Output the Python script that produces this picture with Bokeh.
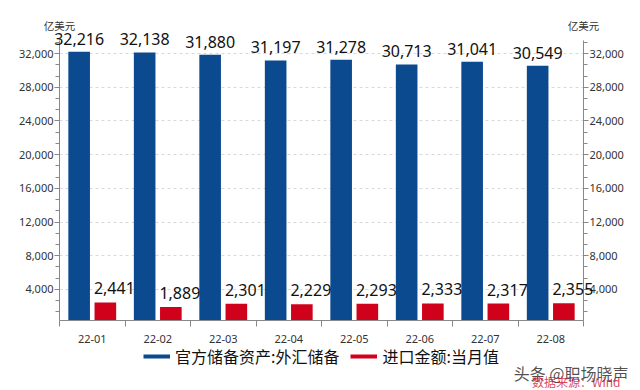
from bokeh.plotting import figure
from bokeh.layouts import column
from bokeh.models import (ColumnDataSource, LinearAxis, SingleIntervalTicker, FixedTicker,
                          NumeralTickFormatter, Legend, LegendItem, Label, LabelSet, Range1d,
                          GridBox)
from bokeh.core.properties import value
from bokeh.embed import file_html
from bokeh.resources import INLINE

months = ["22-01", "22-02", "22-03", "22-04", "22-05", "22-06", "22-07", "22-08"]
reserves = [32216, 32138, 31880, 31197, 31278, 30713, 31041, 30549]
imports = [2441, 1889, 2301, 2229, 2293, 2333, 2317, 2355]
name_reserves = "官方储备资产:外汇储备"
name_imports = "进口金额:当月值"
unit = "亿美元"
watermark = "头条 @职场晓声"
source_note = "数据来源：Wind"

BLUE = "#0b4a8f"
RED = "#d0021b"
FONT = "Noto Sans"
CJK = "Noto Sans CJK SC"
AXIS = "#888888"
TICKTXT = "#333333"

n = len(months)
idx = list(range(1, n + 1))
src = ColumnDataSource(dict(
    xb=[i - 0.2 for i in idx], xr=[i + 0.2 for i in idx],
    rb=reserves, ri=imports,
    lb=[f"{v:,}" for v in reserves], li=[f"{v:,}" for v in imports],
))

# ---- geometry (pixels) ----
W, H = 640, 390
FL, FR, FT, FB = 59, 583, 40, 320          # main plot frame
Y0, Y1 = 300, 33560                         # value range shown in the frame
X0, X1 = 0.5, n + 0.5
sx = (FR - FL) / (X1 - X0)                  # px per category
sy = (FB - FT) / (Y1 - Y0)                  # px per unit

# ---- main chart: bars, axes, grid ----
p = figure(width=W, height=H, output_backend="svg", toolbar_location=None,
           x_range=Range1d(X0, X1), y_range=Range1d(Y0, Y1),
           min_border_left=FL, min_border_right=W - FR, min_border_top=FT,
           min_border_bottom=H - FB)
p.outline_line_color = None

p.vbar(x="xb", top="rb", bottom=Y0, width=0.33, source=src, fill_color=BLUE, line_color=None)
p.vbar(x="xr", top="ri", bottom=Y0, width=0.33, source=src, fill_color=RED, line_color=None)

xa = p.xaxis[0]
xa.ticker = FixedTicker(ticks=idx, minor_ticks=[i - 0.5 for i in idx] + [n + 0.5])
xa.major_label_overrides = {i: m for i, m in zip(idx, months)}
xa.major_tick_out = 0
xa.major_tick_in = 0
xa.minor_tick_out = 6
xa.minor_tick_in = 0
xa.axis_line_color = AXIS
xa.minor_tick_line_color = AXIS
xa.major_label_text_font = FONT
xa.major_label_text_font_size = "11px"
xa.major_label_text_color = TICKTXT
xa.major_label_standoff = 8

ticker = SingleIntervalTicker(interval=4000, num_minor_ticks=3)
ya = p.yaxis[0]
ya.ticker = ticker
ya2 = LinearAxis(ticker=ticker)
p.add_layout(ya2, "right")
for ax in (ya, ya2):
    ax.formatter = NumeralTickFormatter(format="0,0")
    ax.axis_line_color = AXIS
    ax.major_tick_line_color = AXIS
    ax.minor_tick_line_color = AXIS
    ax.major_tick_out = 5
    ax.major_tick_in = 0
    ax.minor_tick_out = 4
    ax.minor_tick_in = 0
    ax.major_label_text_font = FONT
    ax.major_label_text_font_size = "11px"
    ax.major_label_text_color = TICKTXT
    ax.major_label_standoff = 1

p.xgrid.grid_line_color = None
p.ygrid.ticker = ticker
p.ygrid.grid_line_color = "#d8d8d8"
p.ygrid.grid_line_dash = "3 3"

# ---- transparent overlay with the same scales, so texts are not clipped by the frame ----
ov = figure(width=W, height=H, output_backend="svg", toolbar_location=None,
            x_range=Range1d(X0 - FL / sx, X1 + (W - FR) / sx),
            y_range=Range1d(Y0 - (H - FB) / sy, Y1 + FT / sy),
            x_axis_type=None, y_axis_type=None, min_border=0)
ov.outline_line_color = None
ov.background_fill_color = None
ov.border_fill_color = None

aligned_off = True
for fig in (p, ov):
    try:
        fig.frame_align = False
    except Exception:
        aligned_off = False


def px_x(px):
    return X0 + (px - FL) / sx


def px_y(py):
    return Y0 + (FB - py) / sy


ov.add_layout(LabelSet(x="xb", y="rb", text="lb", source=src, text_align="center",
                       text_baseline="alphabetic", y_offset=7, text_font=value(FONT),
                       text_font_size="16px", text_color="#111111"))
ov.add_layout(LabelSet(x="xr", y="ri", text="li", source=src, text_align="center",
                       text_baseline="alphabetic", x_offset=9, y_offset=8, text_font=value(FONT),
                       text_font_size="16px", text_color="#111111"))

for xu in (X0, X1):
    ov.add_layout(Label(x=xu, y=Y1, text=unit, text_align="center", text_baseline="middle",
                        y_offset=15, text_font=CJK, text_font_size="10.5px", text_color=TICKTXT))

# legend swatches come from (hidden) line renderers of the two series
lb_ = ov.line(x=idx, y=reserves, line_color=BLUE, line_width=4, visible=False)
lr_ = ov.line(x=idx, y=imports, line_color=RED, line_width=4, visible=False)
legend = Legend(items=[LegendItem(label=name_reserves, renderers=[lb_]),
                       LegendItem(label=name_imports, renderers=[lr_])],
                orientation="horizontal", location=(143, 22),
                label_text_font=CJK, label_text_font_size="16px", label_text_color="#111111",
                glyph_width=27, glyph_height=16, label_standoff=5, spacing=11,
                padding=0, margin=0, border_line_color=None, background_fill_alpha=0,
                inactive_fill_alpha=0)
ov.add_layout(legend)

ov.add_layout(Label(x=px_x(628), y=px_y(372), text=watermark, text_align="right",
                    text_baseline="middle", text_font=CJK, text_font_size="16px",
                    text_color="#333333", text_alpha=0.85))
ov.add_layout(Label(x=px_x(620), y=px_y(381), text=source_note, text_align="right",
                    text_baseline="middle", text_font=CJK, text_font_size="12px",
                    text_color=RED, text_alpha=0.75))

top = ov if aligned_off else column(ov)
layout = GridBox(children=[(p, 0, 0), (top, 0, 0)])
open("out.html", "w").write(file_html(layout, INLINE))
